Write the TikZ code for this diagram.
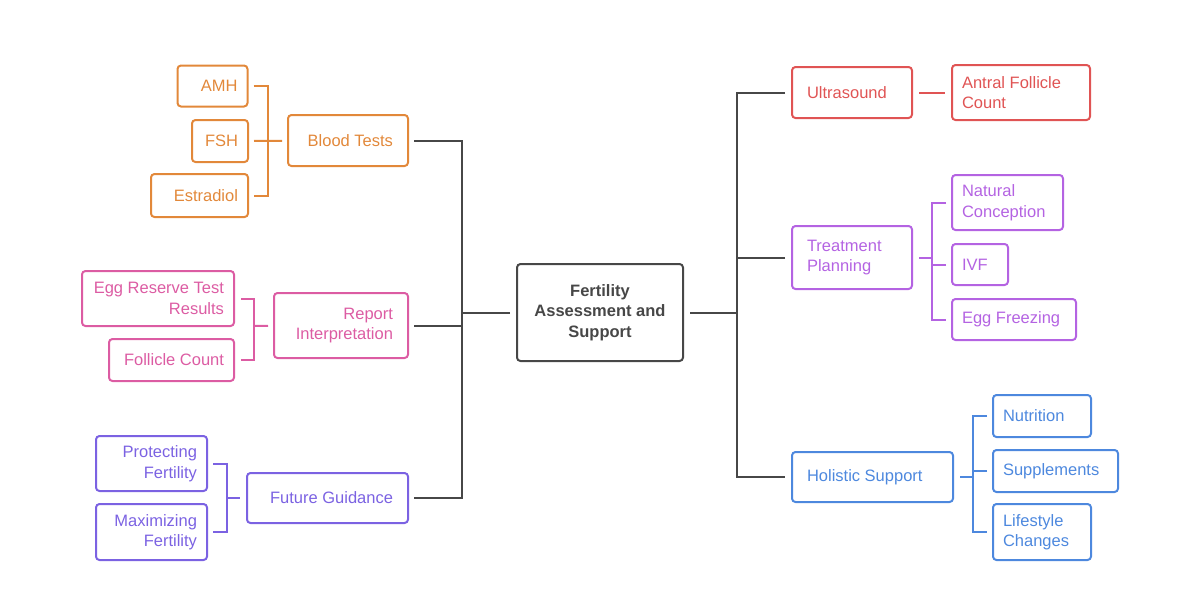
\documentclass[tikz,border=0pt]{standalone}
\usepackage{fontspec}
\setmainfont{Liberation Sans}
\usetikzlibrary{positioning, calc}
\tikzset{every node/.append style={execute at begin node={\hyphenpenalty=10000\exhyphenpenalty=10000\relax}}}
\definecolor{coreGray}{HTML}{474747}
\definecolor{bloodOrange}{HTML}{E2883A}
\definecolor{reportPink}{HTML}{DC5CA3}
\definecolor{futureViolet}{HTML}{7B62E2}
\definecolor{ultraRed}{HTML}{E05454}
\definecolor{treatPurple}{HTML}{B463E2}
\definecolor{holBlue}{HTML}{4D88DE}

\begin{document}
\begin{tikzpicture}[x=1pt, y=-1pt, font=\fontsize{16.5}{20.5}\selectfont,
  box/.style={draw=#1, text=#1, line width=2pt, rounded corners=3.5pt, inner ysep=0pt},
  mainL/.style={box=#1, inner xsep=15pt, align=flush right},
  leafL/.style={box=#1, inner xsep=10pt, align=flush right},
  mainR/.style={box=#1, inner xsep=15pt, align=flush left},
  leafR/.style={box=#1, inner xsep=10pt, align=flush left},
  link/.style={draw=#1, line width=2pt},
  link/.default=coreGray]
  \useasboundingbox (0,0) rectangle (1200,595);

  % centre
  \node[box=coreGray, align=flush center, font=\fontsize{16.5}{20.5}\selectfont\bfseries,
    minimum width=166pt, minimum height=97pt] (core) at (600,312.5)
    {Fertility\\Assessment and\\Support};
  \coordinate (ltrunk) at (462,312.5);
  \coordinate (rtrunk) at (737,312.5);

  % left branches
  \node[mainL=bloodOrange, text width=90pt, minimum height=51pt] (blood) at (348,140.5) {Blood Tests};
  \node[leafL=bloodOrange, text width=50pt, minimum height=41pt] (amh) at (212.5,86) {AMH};
  \node[leafL=bloodOrange, text width=36pt, minimum height=42pt] (fsh) at (220,141) {FSH};
  \node[leafL=bloodOrange, text width=77pt, minimum height=43pt] (estr) at (199.5,195.5) {Estradiol};

  \node[mainL=reportPink, text width=104pt, minimum height=65pt] (report) at (341,325.5) {Report\\Interpretation};
  \node[leafL=reportPink, text width=132pt, minimum height=55pt] (egg) at (158,298.5) {Egg Reserve Test\\Results};
  \node[leafL=reportPink, text width=105pt, minimum height=42pt] (foll) at (171.5,360) {Follicle Count};

  \node[mainL=futureViolet, text width=131pt, minimum height=50pt] (future) at (327.5,498) {Future Guidance};
  \node[leafL=futureViolet, text width=91pt, minimum height=55pt] (protect) at (151.5,463.5) {Protecting\\Fertility};
  \node[leafL=futureViolet, text width=91pt, minimum height=56pt] (maxim) at (151.5,532) {Maximizing\\Fertility};

  % right branches
  \node[mainR=ultraRed, text width=90pt, minimum height=51pt] (ultra) at (852,92.5) {Ultrasound};
  \node[leafR=ultraRed, text width=118pt, minimum height=55pt] (antral) at (1021,92.5) {Antral Follicle\\Count};

  \node[mainR=treatPurple, text width=90pt, minimum height=63pt] (treat) at (852,257.5) {Treatment\\Planning};
  \node[leafR=treatPurple, text width=91pt, minimum height=55pt] (natural) at (1007.5,202.5) {Natural\\Conception};
  \node[leafR=treatPurple, text width=36pt, minimum height=41pt] (ivf) at (980,264.5) {IVF};
  \node[leafR=treatPurple, text width=104pt, minimum height=41pt] (eggfr) at (1014,319.5) {Egg Freezing};

  \node[mainR=holBlue, text width=131pt, minimum height=50pt] (holistic) at (872.5,477) {Holistic Support};
  \node[leafR=holBlue, text width=78pt, minimum height=42pt] (nutri) at (1042,416) {Nutrition};
  \node[leafR=holBlue, text width=105pt, minimum height=42pt] (suppl) at (1055.5,471) {Supplements};
  \node[leafR=holBlue, text width=78pt, minimum height=56pt] (life) at (1042,532) {Lifestyle\\Changes};

  % trunks
  \draw[link, shorten <=5pt, shorten >=5pt] (blood) -| (ltrunk) |- (future);
  \draw[link, shorten <=5pt] (report) -- (report -| ltrunk);
  \draw[link, shorten <=6pt] (core) -- (ltrunk);
  \draw[link, shorten <=6pt, shorten >=6pt] (ultra) -| (rtrunk) |- (holistic);
  \draw[link, shorten <=6pt] (treat) -- (treat -| rtrunk);
  \draw[link, shorten <=6pt] (core) -- (rtrunk);

  % brackets
  \coordinate (bjoin) at (268,141);
  \draw[link=bloodOrange, shorten <=5pt, shorten >=5pt] (amh) -| (bjoin) |- (estr);
  \draw[link=bloodOrange, shorten <=5pt, shorten >=5pt] (fsh) -- (blood);
  \coordinate (rjoin) at (254,326);
  \draw[link=reportPink, shorten <=6pt, shorten >=6pt] (egg) -| (rjoin) |- (foll);
  \draw[link=reportPink, shorten >=5pt] (rjoin) -- (report);
  \coordinate (fjoin) at (227,498);
  \draw[link=futureViolet, shorten <=5pt, shorten >=5pt] (protect) -| (fjoin) |- (maxim);
  \draw[link=futureViolet, shorten >=6pt] (fjoin) -- (future);

  \draw[link=ultraRed, shorten <=6pt, shorten >=6pt] (ultra) -- (antral);
  \coordinate (tjoin) at (932,257.5);
  \draw[link=treatPurple, shorten <=6pt] (treat) -- (tjoin);
  \draw[link=treatPurple, shorten <=5pt, shorten >=5pt] (natural) -| (tjoin) |- (eggfr);
  \draw[link=treatPurple, shorten <=5pt] (ivf) -- (ivf -| tjoin);
  \coordinate (hjoin) at (973,477);
  \draw[link=holBlue, shorten <=6pt] (holistic) -- (hjoin);
  \draw[link=holBlue, shorten <=5pt, shorten >=5pt] (nutri) -| (hjoin) |- (life);
  \draw[link=holBlue, shorten <=5pt] (suppl) -- (suppl -| hjoin);
\end{tikzpicture}
\end{document}
